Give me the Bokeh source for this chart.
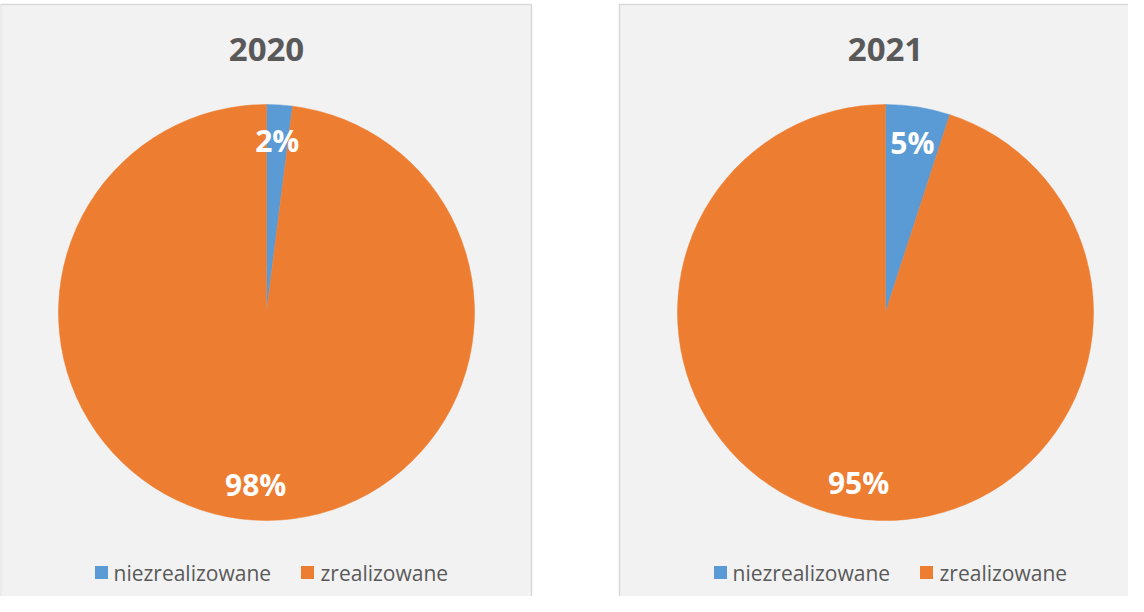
import math
from bokeh.plotting import figure
from bokeh.models import Range1d, ColumnDataSource
from bokeh.core.properties import value
from bokeh.embed import file_html
from bokeh.resources import INLINE

# ---- data ----
years = ["2020", "2021"]
categories = ["niezrealizowane", "zrealizowane"]
values_2020 = [2, 98]
values_2021 = [5, 95]
series = [values_2020, values_2021]
colors = ["#5B9BD5", "#ED7D31"]

# ---- layout (page pixels, y measured from top of window) ----
W, H = 1128, 596
OFF = 8
WIN_H = 612

def Y(ys):  # screen y -> data y (upwards)
    return WIN_H - ys

p = figure(width=W, height=H, output_backend="svg", toolbar_location=None,
           x_range=Range1d(OFF, OFF + W), y_range=Range1d(WIN_H - OFF - H, WIN_H - OFF),
           min_border=0, background_fill_color="white", border_fill_color="white")
p.axis.visible = False
p.grid.visible = False
p.outline_line_color = None

panels = [(8, 539), (627, 1143)]
centers_x = [274, 893]
cy = 320
R = 208
label_r = 172
font = value("Open Sans")

for k, year in enumerate(years):
    x0, x1 = panels[k]
    cx = centers_x[k]
    p.quad(left=[x0], right=[x1], top=[Y(12)], bottom=[Y(640)],
           fill_color="#F2F2F2", line_color="#D9D9D9", line_width=1.5)
    # title
    p.text(x=[cx], y=[Y(57)], text=[year], text_font=font, text_font_style="bold",
           text_font_size="33px", text_color="#595959", text_align="center",
           text_baseline="middle")
    vals = series[k]
    total = float(sum(vals))
    cum = 0.0
    starts, ends, lx, ly, labels = [], [], [], [], []
    for v in vals:
        a0 = math.pi / 2 - 2 * math.pi * cum / total
        cum += v
        a1 = math.pi / 2 - 2 * math.pi * cum / total
        starts.append(a0)
        ends.append(a1)
        mid = (a0 + a1) / 2
        lx.append(cx + label_r * math.cos(mid))
        ly.append(Y(cy) + label_r * math.sin(mid))
        labels.append(f"{round(100 * v / total)}%")
    src = ColumnDataSource(dict(start=starts, end=ends, color=colors))
    p.wedge(x=cx, y=Y(cy), radius=R, start_angle="start", end_angle="end",
            direction="clock", fill_color="color", line_color="color", line_width=0.5,
            source=src)
    p.text(x=lx, y=ly, text=labels, text_font=font, text_font_style="bold",
           text_font_size="30px", text_color="white", text_align="center",
           text_baseline="middle")
    # legend
    sq_x = [cx - 165, cx + 41]
    tx_x = [cx - 153, cx + 54]
    p.rect(x=sq_x, y=[Y(580)] * 2, width=13, height=13, fill_color=colors,
           line_color=None)
    p.text(x=tx_x, y=[Y(580)] * 2, text=categories, text_font=font,
           text_font_size="21px", text_color="#595959", text_align="left",
           text_baseline="middle")

open("out.html", "w").write(file_html(p, INLINE))
